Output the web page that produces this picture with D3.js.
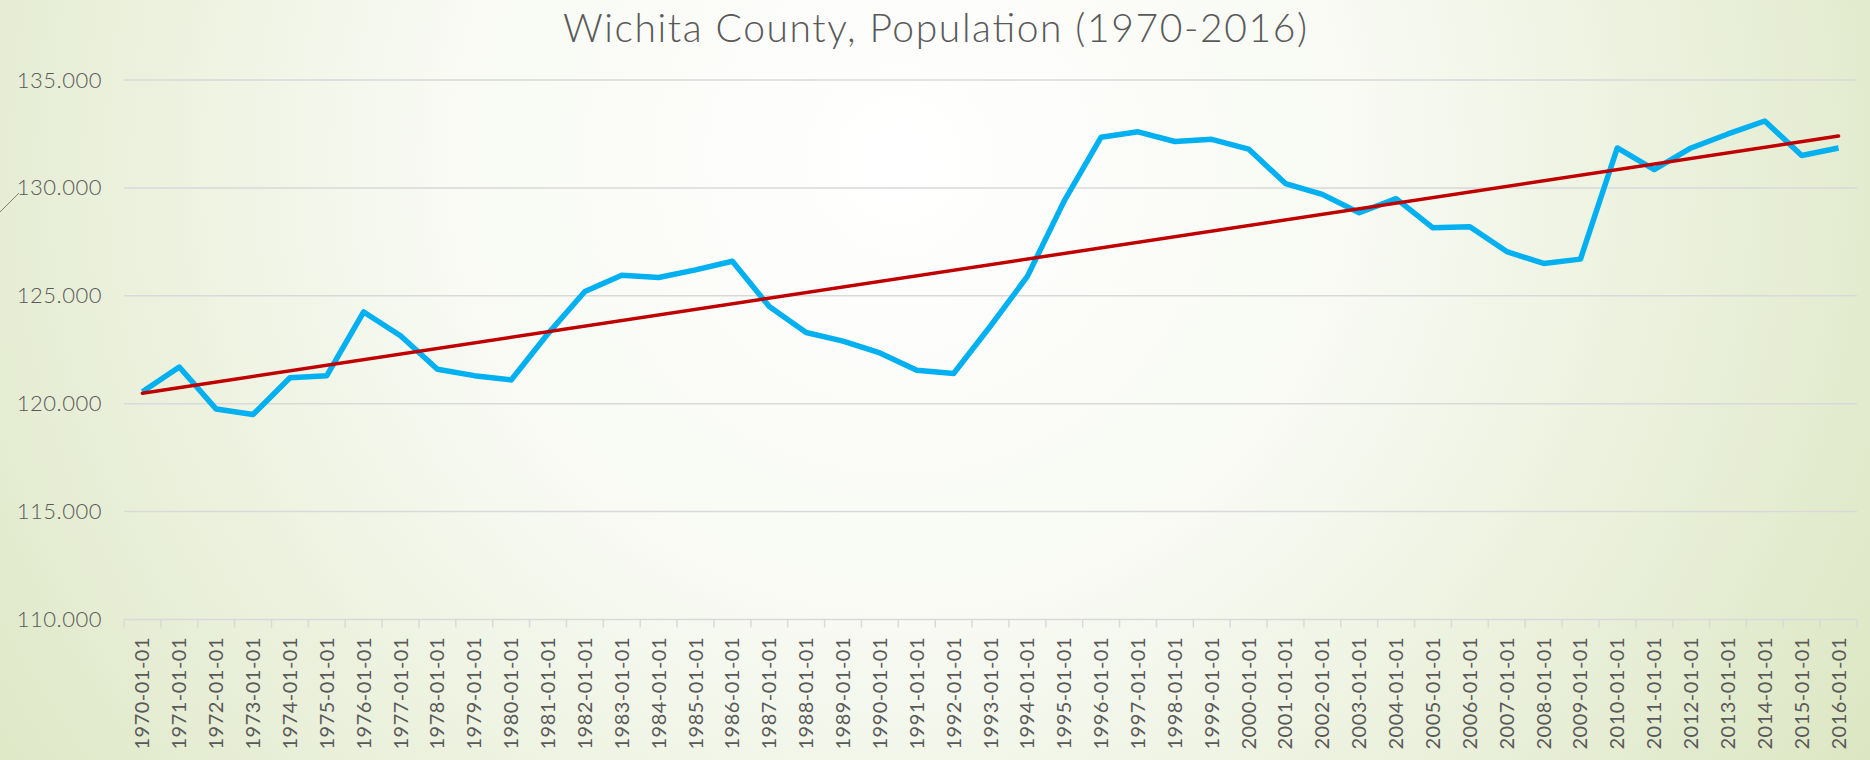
<!DOCTYPE html>
<html>
<head>
<meta charset="utf-8">
<script src="https://cdn.jsdelivr.net/npm/d3@7"></script>
<style>
  body { margin: 0; }
  svg { display: block; }
</style>
</head>
<body>
<svg id="chart"></svg>
<script>
var w = 1870;
var h = 760;

var years = d3.range(1970, 2017);
var categories = years.map(function (y) { return y + '-01-01'; });
var population = [
  120550, 121700, 119750, 119500, 121200, 121300, 124250, 123150, 121600, 121300,
  121100, 123250, 125200, 125950, 125850, 126200, 126600, 124500, 123300, 122900,
  122350, 121550, 121400, 123600, 125900, 129400, 132350, 132600, 132150, 132250,
  131800, 130200, 129700, 128850, 129500, 128150, 128200, 127050, 126500, 126700,
  131850, 130850, 131850, 132500, 133100, 131500, 131850
];
var yTicks = [110000, 115000, 120000, 125000, 130000, 135000];
var title = 'Wichita County, Population (1970-2016)';

var plotL = 124, plotR = 1857, plotT = 80, plotB = 619.5;
var font = 'Lato, "Open Sans", sans-serif';

var svg = d3.select('#chart').attr('width', w).attr('height', h);

// background
var defs = svg.append('defs');
var grad = defs.append('radialGradient')
  .attr('id', 'bg')
  .attr('gradientUnits', 'userSpaceOnUse')
  .attr('cx', 900).attr('cy', 160).attr('r', 1150);
grad.append('stop').attr('offset', '0%').attr('stop-color', '#ffffff');
grad.append('stop').attr('offset', '40%').attr('stop-color', '#f8faf3');
grad.append('stop').attr('offset', '100%').attr('stop-color', '#dce6c2');
svg.append('rect').attr('width', w).attr('height', h).attr('fill', 'url(#bg)');

// small decorative stroke at the left edge
svg.append('line')
  .attr('x1', 0).attr('y1', 212).attr('x2', 19).attr('y2', 193)
  .attr('stroke', '#8a8466').attr('stroke-width', 1);

var x = d3.scaleBand().domain(categories).range([plotL, plotR]).padding(0);
var y = d3.scaleLinear().domain([110000, 135000]).range([plotB, plotT]);

var fmt = d3.formatLocale({decimal: ',', thousands: '.', grouping: [3], currency: ['', '']}).format(',.0f');

// gridlines
svg.append('g')
  .selectAll('line')
  .data(yTicks)
  .enter()
  .append('line')
  .attr('x1', plotL).attr('x2', plotR)
  .attr('y1', function (d) { return y(d); })
  .attr('y2', function (d) { return y(d); })
  .attr('stroke', '#d9d9d9')
  .attr('stroke-width', 1.5);

// y axis labels
var yAxis = d3.axisLeft(y).tickValues(yTicks).tickFormat(fmt).tickSize(0).tickPadding(22);
var gy = svg.append('g').attr('transform', 'translate(' + plotL + ',0)').call(yAxis);
gy.select('.domain').remove();
gy.selectAll('text')
  .style('font-family', font)
  .style('font-size', '22px')
  .style('font-weight', 300)
  .style('letter-spacing', '0.5px')
  .attr('fill', '#595959');

// x axis ticks at category boundaries
var bounds = categories.map(function (c) { return x(c); }).concat([plotR]);
svg.append('g')
  .selectAll('line')
  .data(bounds)
  .enter()
  .append('line')
  .attr('x1', function (d) { return d; })
  .attr('x2', function (d) { return d; })
  .attr('y1', plotB).attr('y2', plotB + 8)
  .attr('stroke', '#d9d9d9')
  .attr('stroke-width', 1.5);

var xAxis = d3.axisBottom(x).tickSize(0).tickPadding(0);
var gx = svg.append('g').attr('transform', 'translate(0,' + plotB + ')').call(xAxis);
gx.select('.domain').remove();
gx.selectAll('text')
  .attr('transform', 'rotate(-90)')
  .attr('x', -18)
  .attr('y', 0)
  .attr('dy', '0.35em')
  .attr('textLength', 112)
  .attr('lengthAdjust', 'spacing')
  .style('text-anchor', 'end')
  .style('font-family', font)
  .style('font-size', '20px')
  .attr('fill', '#595959');

// series line
var line = d3.line()
  .x(function (d, i) { return x(categories[i]) + x.bandwidth() / 2; })
  .y(function (d) { return y(d); });

svg.append('path')
  .datum(population)
  .attr('d', line)
  .attr('fill', 'none')
  .attr('stroke', '#00b0f0')
  .attr('stroke-width', 5.5)
  .attr('stroke-linejoin', 'round');

// linear trendline (least squares over the series)
var n = population.length;
var mx = d3.mean(d3.range(n));
var my = d3.mean(population);
var sxy = d3.sum(population, function (v, i) { return (i - mx) * (v - my); });
var sxx = d3.sum(d3.range(n), function (i) { return (i - mx) * (i - mx); });
var slope = sxy / sxx;
var icpt = my - slope * mx;
var trend = [0, n - 1].map(function (i) { return {i: i, v: icpt + slope * i}; });

svg.append('path')
  .datum(trend)
  .attr('d', d3.line()
    .x(function (d) { return x(categories[d.i]) + x.bandwidth() / 2; })
    .y(function (d) { return y(d.v); }))
  .attr('fill', 'none')
  .attr('stroke', '#c00000')
  .attr('stroke-width', 3.5)
  .attr('stroke-linecap', 'round');

// title
svg.append('text')
  .attr('x', 935)
  .attr('y', 42)
  .attr('text-anchor', 'middle')
  .attr('textLength', 744)
  .attr('lengthAdjust', 'spacing')
  .style('font-family', font)
  .style('font-size', '39px')
  .style('font-weight', 300)
  .attr('fill', '#595959')
  .text(title);
</script>
</body>
</html>
